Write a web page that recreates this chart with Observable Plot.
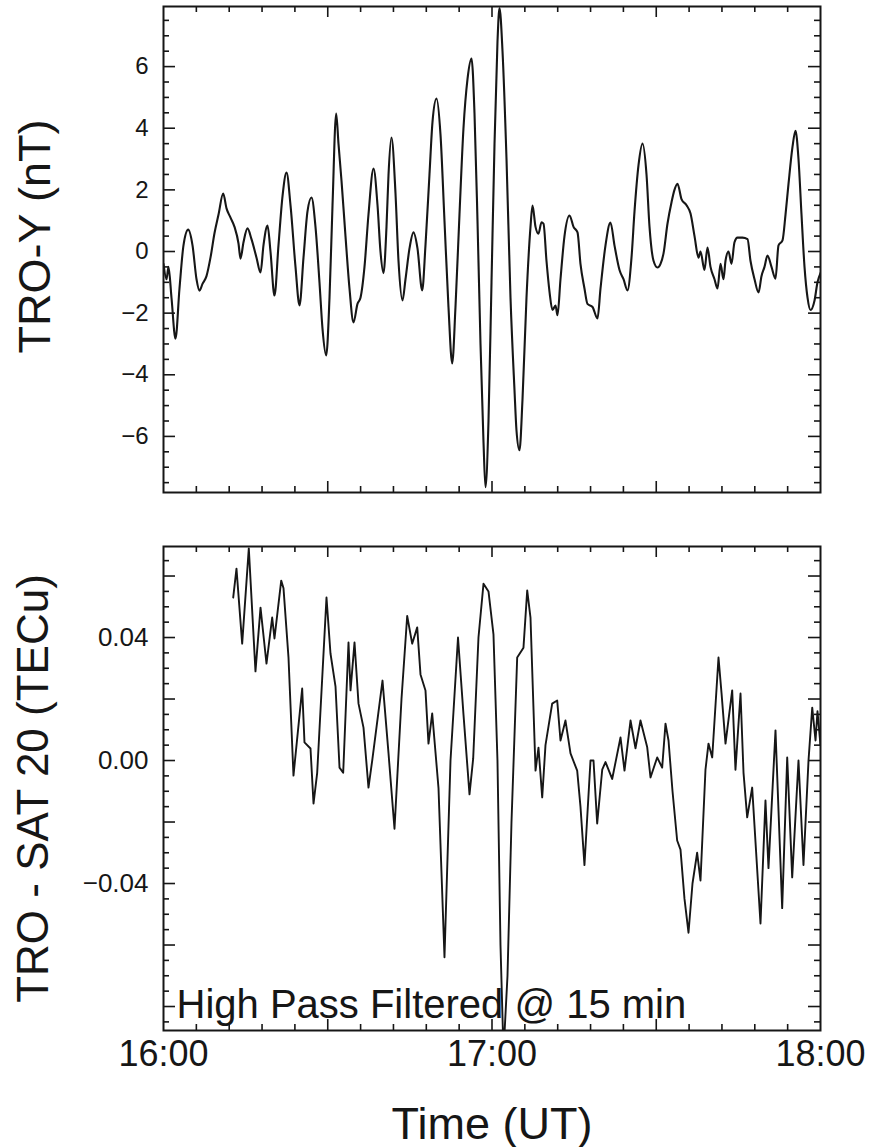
<!DOCTYPE html>
<html><head><meta charset="utf-8">
<script src="https://cdn.jsdelivr.net/npm/d3@7"></script>
<script src="https://cdn.jsdelivr.net/npm/@observablehq/plot@0.6"></script>
<style>
body{margin:0;background:#fff;}
#chart svg{display:block;}
</style></head><body><div id="chart"></div>
<script>
// ---- data: minutes after 16:00 UT ----
const magMinutes = [0.0,0.55,0.91,1.46,2.19,2.92,3.65,4.51,5.30,6.03,6.58,7.12,7.85,8.58,9.32,10.05,10.90,11.51,12.24,12.97,13.70,14.06,14.61,15.34,16.07,16.99,17.72,18.26,19.00,19.54,20.27,21.00,21.74,22.47,23.20,24.11,24.84,25.57,26.30,27.03,27.76,28.49,29.04,29.72,30.32,30.87,31.54,31.96,32.51,33.24,33.97,34.70,35.43,35.98,36.71,37.44,38.36,39.09,39.63,40.18,40.73,41.10,41.64,42.37,42.92,43.65,44.20,44.93,45.66,46.39,47.25,47.85,48.58,49.13,49.86,50.59,51.32,52.05,52.73,53.33,54.06,54.79,55.53,56.26,56.80,57.35,57.90,58.45,58.81,59.36,59.91,60.46,61.00,61.37,61.92,62.65,63.38,64.11,64.47,65.02,65.57,66.30,67.03,67.40,67.95,68.49,69.04,69.41,69.95,70.50,71.05,71.60,71.96,72.51,73.24,74.16,74.89,75.62,76.16,76.89,77.44,78.36,79.27,79.82,80.73,81.64,82.37,83.29,84.02,84.75,85.48,86.03,86.76,87.49,88.22,88.77,89.50,90.23,90.78,91.32,92.05,92.79,93.33,93.88,94.61,95.53,96.26,96.99,97.72,98.08,98.81,99.36,99.91,100.64,101.19,101.74,102.28,102.65,103.20,103.74,104.29,104.84,105.75,106.67,107.21,107.95,108.68,109.22,109.77,110.32,111.05,111.78,112.33,113.06,113.61,114.16,114.89,115.43,115.98,116.53,117.08,117.63,118.17,118.90,119.45,120.0];
const magValues = [-0.4,-0.9,-0.5,-1.5,-2.83,-1.2,0.2,0.71,0.2,-0.9,-1.27,-1.05,-0.8,-0.2,0.6,1.2,1.88,1.4,1.1,0.8,0.26,-0.23,0.3,0.75,0.4,-0.2,-0.68,0.2,0.84,0.0,-1.43,0.2,1.8,2.56,1.5,-0.5,-1.75,-0.2,1.3,1.75,0.8,-1.0,-2.5,-3.37,-1.5,1.5,4.48,3.5,2.3,0.5,-1.2,-2.3,-1.7,-1.5,-0.5,1.2,2.69,1.5,0.0,-0.7,0.8,2.5,3.7,1.9,-0.3,-1.59,-0.9,0.1,0.62,0.1,-1.26,0.2,2.5,4.2,4.96,3.8,1.0,-1.8,-3.63,-1.8,1.2,4.0,5.6,6.26,4.5,1.0,-3.0,-6.2,-7.65,-5.5,-1.0,3.5,6.8,7.9,6.5,3.0,-1.5,-4.5,-5.8,-6.45,-4.8,-1.5,0.8,1.49,0.8,0.58,0.95,0.9,-0.3,-1.3,-1.9,-1.75,-2.07,-0.9,0.5,1.17,0.8,0.62,-0.4,-1.2,-1.7,-1.8,-2.17,-1.2,0.2,0.94,0.2,-0.6,-0.9,-1.26,-0.2,1.3,2.8,3.5,2.5,0.8,-0.3,-0.52,-0.4,-0.07,0.9,1.6,2.0,2.2,1.7,1.5,1.23,0.5,-0.2,0.0,-0.6,0.13,-0.5,-0.9,-1.2,-0.4,-0.9,-0.3,0.0,-0.4,0.3,0.45,0.45,0.4,-0.3,-0.9,-1.33,-0.8,-0.5,-0.13,-0.5,-0.88,0.2,0.36,1.2,2.2,3.4,3.92,3.0,1.2,-0.5,-1.5,-1.9,-1.6,-1.0,-0.7];

const tecMinutes = [12.73,13.33,14.37,15.58,16.80,17.72,18.81,19.85,20.27,21.50,21.92,22.83,23.74,25.33,25.75,26.85,27.40,28.07,29.77,30.50,31.42,32.15,32.82,33.79,34.16,34.89,35.62,36.53,37.44,38.12,40.00,41.10,42.19,43.47,44.51,45.42,46.34,46.94,47.85,48.40,49.08,50.23,51.32,52.42,53.79,54.79,55.89,56.56,57.53,58.45,59.36,60.27,61.00,61.55,62.10,62.83,63.56,64.60,65.75,66.43,67.03,67.95,68.49,69.17,69.77,70.99,71.91,72.51,73.42,74.34,75.56,76.16,76.89,77.99,78.54,79.21,80.13,80.73,81.95,83.47,84.20,85.30,86.21,87.12,88.35,88.95,90.17,91.08,91.69,92.24,92.97,93.82,94.43,95.16,95.89,96.62,97.47,98.08,98.99,99.54,100.22,101.37,101.92,102.65,103.87,104.47,105.39,105.94,106.61,107.52,109.04,109.95,110.50,111.78,113.00,113.92,114.83,115.98,116.89,117.81,118.49,119.09,119.45,120.0];
const tecValues = [0.053,0.0624,0.038,0.069,0.029,0.0497,0.0315,0.0465,0.0397,0.0585,0.056,0.0335,-0.0049,0.0234,0.0059,0.0039,-0.014,-0.004,0.053,0.0348,0.024,-0.0023,-0.004,0.0384,0.0228,0.0384,0.0185,0.0107,-0.0088,0.0,0.026,0.0023,-0.0222,0.02,0.047,0.038,0.0433,0.028,0.0228,0.0055,0.0153,-0.009,-0.064,0.0,0.040,0.015,-0.011,0.0006,0.04,0.0575,0.055,0.041,0.0,-0.06,-0.095,-0.07,-0.02,0.0335,0.0367,0.0553,0.0465,-0.0033,0.0042,-0.012,0.005,0.0185,0.0195,0.0065,0.013,0.0023,-0.0033,-0.015,-0.034,0.0,0.0,-0.0205,-0.003,-0.0005,-0.006,0.0075,-0.0033,0.013,0.004,0.013,0.0043,-0.0055,0.001,-0.0023,0.012,0.0065,-0.01,-0.026,-0.029,-0.045,-0.056,-0.04,-0.030,-0.039,-0.003,0.0055,0.001,0.0335,0.022,0.0055,0.0228,-0.003,0.0218,-0.004,-0.0185,-0.0088,-0.053,-0.013,-0.035,0.0098,-0.048,0.001,-0.038,0.0,-0.034,0.0,0.0172,0.0065,0.016,0.005];

// ---- ticks & labels ----
const timeTickMinutes = [0, 60, 120];
const timeTickLabels = ["16:00", "17:00", "18:00"];
const timeMajorMinutes = [30, 60, 90];
const timeMinorMinutes = [6,12,18,24,36,42,48,54,66,72,78,84,96,102,108,114];
const magTickValues = [-6, -4, -2, 0, 2, 4, 6];
const magTickLabels = ["−6", "−4", "−2", "0", "2", "4", "6"];
const magMinorValues = [-7.5,-7,-6.5,-5.5,-5,-4.5,-3.5,-3,-2.5,-1.5,-1,-0.5,0.5,1,1.5,2.5,3,3.5,4.5,5,5.5,6.5,7,7.5];
const tecTickValues = [-0.04, 0, 0.04];
const tecTickLabels = ["−0.04", "0.00", "0.04"];
const tecMajorValues = [-0.08, -0.06, -0.04, -0.02, 0, 0.02, 0.04, 0.06];
const tecMinorValues = [-0.085,-0.075,-0.07,-0.065,-0.055,-0.05,-0.045,-0.035,-0.03,-0.025,-0.015,-0.01,-0.005,0.005,0.01,0.015,0.025,0.03,0.035,0.045,0.05,0.055,0.065];

const magLabel = "TRO-Y (nT)";
const tecLabel = "TRO - SAT 20 (TECu)";
const timeLabel = "Time (UT)";
const filterNote = "High Pass Filtered @ 15 min";

const magData = magMinutes.map((t, i) => ({t, v: magValues[i]}));
const tecData = tecMinutes.map((t, i) => ({t, v: tecValues[i]}));

const W = 879, ML = 163, MR = 59;
const PW = W - ML - MR;
const INK = "#161616";
const FONT = "'Liberation Sans', Arial, Helvetica, sans-serif";

function frameTicks(PH, yMinor, yMajor) {
  const s = {stroke: INK, strokeWidth: 1.6};
  const minL = 6, majL = 11;
  return [
    Plot.tickX(timeMinorMinutes, {x: d => d, insetTop: PH - minL, ...s}),
    Plot.tickX(timeMinorMinutes, {x: d => d, insetBottom: PH - minL, ...s}),
    Plot.tickX(timeMajorMinutes, {x: d => d, insetTop: PH - majL, ...s}),
    Plot.tickX(timeMajorMinutes, {x: d => d, insetBottom: PH - majL, ...s}),
    Plot.tickY(yMinor, {y: d => d, insetRight: PW - minL, ...s}),
    Plot.tickY(yMinor, {y: d => d, insetLeft: PW - minL, ...s}),
    Plot.tickY(yMajor, {y: d => d, insetRight: PW - majL - 1, ...s}),
    Plot.tickY(yMajor, {y: d => d, insetLeft: PW - majL - 1, ...s})
  ];
}

// ---- top panel ----
const topMT = 6, topPH = 486, topH = 500;
const magPlot = Plot.plot({
  width: W, height: topH,
  marginLeft: ML, marginRight: MR, marginTop: topMT, marginBottom: topH - topMT - topPH,
  style: {fontFamily: FONT, color: INK, background: "white", overflow: "visible"},
  x: {domain: [0, 120], axis: null},
  y: {domain: [-7.82, 7.95]},
  marks: [
    Plot.line(magData, {x: "t", y: "v", stroke: INK, strokeWidth: 2.1, curve: "monotone-x", clip: true}),
    ...frameTicks(topPH, magMinorValues, magTickValues),
    Plot.frame({stroke: INK, strokeWidth: 2}),
    Plot.axisY({ticks: magTickValues, tickFormat: d => magTickLabels[magTickValues.indexOf(d)], tickSize: 0, tickPadding: 15, fontSize: 24, label: null}),
    Plot.text([magLabel], {text: d => d, frameAnchor: "left", textAnchor: "middle", rotate: -90, dx: -128, dy: -13, fontSize: 45})
  ]
});

// ---- bottom panel ----
const botMT = 46, botPH = 484, botH = 647;
const tecPlot = Plot.plot({
  width: W, height: botH,
  marginLeft: ML, marginRight: MR, marginTop: botMT, marginBottom: botH - botMT - botPH,
  style: {fontFamily: FONT, color: INK, background: "white", overflow: "visible"},
  x: {domain: [0, 120]},
  y: {domain: [-0.0878, 0.0696]},
  marks: [
    Plot.line(tecData, {x: "t", y: "v", stroke: INK, strokeWidth: 1.9, clip: true}),
    ...frameTicks(botPH, tecMinorValues, tecMajorValues),
    Plot.frame({stroke: INK, strokeWidth: 2}),
    Plot.axisY({ticks: tecTickValues, tickFormat: d => tecTickLabels[tecTickValues.indexOf(d)], tickSize: 0, tickPadding: 15, fontSize: 26, label: null}),
    Plot.axisX({ticks: timeTickMinutes, tickFormat: d => timeTickLabels[timeTickMinutes.indexOf(d)], tickSize: 0, tickPadding: 10, fontSize: 36, label: null}),
    Plot.text([tecLabel], {text: d => d, frameAnchor: "left", textAnchor: "middle", rotate: -90, dx: -130, fontSize: 44}),
    Plot.text([filterNote], {text: d => d, frameAnchor: "bottom-left", textAnchor: "start", lineAnchor: "bottom", dx: 13, dy: -13, fontSize: 40, fill: INK}),
    Plot.text([timeLabel], {text: d => d, frameAnchor: "bottom", lineAnchor: "bottom", dy: 108, fontSize: 45})
  ]
});

document.getElementById("chart").append(magPlot, tecPlot);
</script>
</body></html>
